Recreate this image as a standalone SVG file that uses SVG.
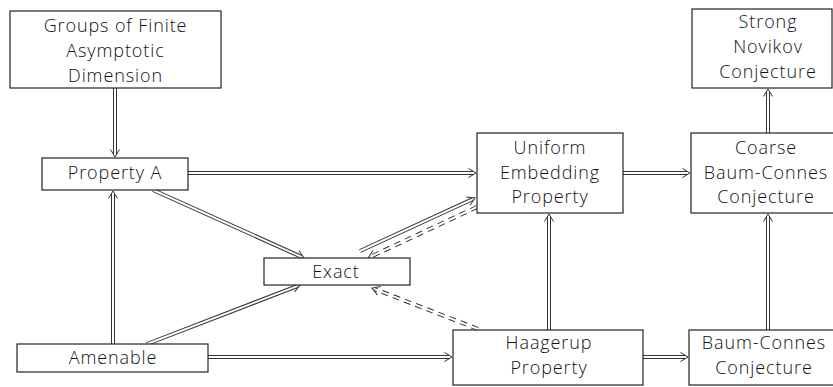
<svg xmlns="http://www.w3.org/2000/svg" width="833" height="387" viewBox="0 0 833 387">
<style>
.box{fill:#fff;stroke:#222;stroke-width:1.2}
.t{font-family:"Open Sans","Noto Sans",sans-serif;font-size:18px;font-weight:300;letter-spacing:0.9px;fill:#111;text-anchor:middle}
.o{stroke:#333;stroke-width:4;fill:none}
.d{stroke-dasharray:7 5}
.i{stroke:#fff;stroke-width:2;fill:none}
.h{stroke:none;fill:none}
</style>
<defs>
<marker id="ah" viewBox="-9 -6 10 12" refX="0" refY="0" markerWidth="10" markerHeight="12" orient="auto" markerUnits="userSpaceOnUse">
<path d="M-7.5,-4.5 L0,0 L-7.5,4.5" fill="none" stroke="#333" stroke-width="1"/>
</marker>
</defs>
<rect width="833" height="387" fill="#fff"/>
<g id="connectors">
<g><line class="o" x1="115" y1="88" x2="115" y2="154"/><line class="i" x1="115" y1="88" x2="115" y2="154"/><line class="h" x1="115" y1="88" x2="115" y2="157" marker-end="url(#ah)"/></g>
<g><line class="o" x1="113" y1="344" x2="113" y2="194"/><line class="i" x1="113" y1="344" x2="113" y2="194"/><line class="h" x1="113" y1="344" x2="113" y2="191" marker-end="url(#ah)"/></g>
<g><line class="o" x1="188" y1="173" x2="473" y2="173"/><line class="i" x1="188" y1="173" x2="473" y2="173"/><line class="h" x1="188" y1="173" x2="476" y2="173" marker-end="url(#ah)"/></g>
<g><line class="o" x1="153" y1="190" x2="301.3" y2="256.8"/><line class="i" x1="153" y1="190" x2="301.3" y2="256.8"/><line class="h" x1="153" y1="190" x2="304" y2="258" marker-end="url(#ah)"/></g>
<g><line class="o" x1="147" y1="344" x2="297.2" y2="286.1"/><line class="i" x1="147" y1="344" x2="297.2" y2="286.1"/><line class="h" x1="147" y1="344" x2="300" y2="285" marker-end="url(#ah)"/></g>
<g><line class="o" x1="360" y1="251" x2="472.3" y2="199.3"/><line class="i" x1="360" y1="251" x2="472.3" y2="199.3"/><line class="h" x1="360" y1="251" x2="475" y2="198" marker-end="url(#ah)"/></g>
<g><line class="o d" x1="477" y1="207" x2="370.7" y2="256.7"/><line class="i" x1="477" y1="207" x2="370.7" y2="256.7"/><line class="h" x1="477" y1="207" x2="368" y2="258" marker-end="url(#ah)"/></g>
<g><line class="o d" x1="478" y1="329" x2="374.8" y2="289.1"/><line class="i" x1="478" y1="329" x2="374.8" y2="289.1"/><line class="h" x1="478" y1="329" x2="372" y2="288" marker-end="url(#ah)"/></g>
<g><line class="o" x1="208" y1="357" x2="449" y2="357"/><line class="i" x1="208" y1="357" x2="449" y2="357"/><line class="h" x1="208" y1="357" x2="452" y2="357" marker-end="url(#ah)"/></g>
<g><line class="o" x1="549" y1="330" x2="549" y2="217"/><line class="i" x1="549" y1="330" x2="549" y2="217"/><line class="h" x1="549" y1="330" x2="549" y2="214" marker-end="url(#ah)"/></g>
<g><line class="o" x1="643" y1="357" x2="685" y2="357"/><line class="i" x1="643" y1="357" x2="685" y2="357"/><line class="h" x1="643" y1="357" x2="688" y2="357" marker-end="url(#ah)"/></g>
<g><line class="o" x1="623" y1="173" x2="687" y2="173"/><line class="i" x1="623" y1="173" x2="687" y2="173"/><line class="h" x1="623" y1="173" x2="690" y2="173" marker-end="url(#ah)"/></g>
<g><line class="o" x1="768" y1="133" x2="768" y2="92"/><line class="i" x1="768" y1="133" x2="768" y2="92"/><line class="h" x1="768" y1="133" x2="768" y2="89" marker-end="url(#ah)"/></g>
<g><line class="o" x1="768" y1="330" x2="768" y2="217"/><line class="i" x1="768" y1="330" x2="768" y2="217"/><line class="h" x1="768" y1="330" x2="768" y2="214" marker-end="url(#ah)"/></g>
</g>
<g id="groups-fad"><rect class="box" x="10" y="11" width="211" height="77"/><text class="t" x="115.5" y="32">Groups of Finite</text><text class="t" x="115.5" y="57">Asymptotic</text><text class="t" x="115.5" y="82">Dimension</text></g>
<g id="property-a"><rect class="box" x="42" y="158" width="146" height="32"/><text class="t" x="115" y="179">Property A</text></g>
<g id="exact"><rect class="box" x="264" y="258" width="146" height="27"/><text class="t" x="336" y="278">Exact</text></g>
<g id="amenable"><rect class="box" x="17" y="344" width="191" height="28"/><text class="t" x="113" y="364">Amenable</text></g>
<g id="uniform-embedding"><rect class="box" x="477" y="133" width="146" height="80"/><text class="t" x="550" y="154">Uniform</text><text class="t" x="550" y="178.5">Embedding</text><text class="t" x="550" y="203">Property</text></g>
<g id="coarse-bc"><rect class="box" x="691" y="133" width="154" height="80"/><text class="t" x="766" y="154">Coarse</text><text class="t" x="766" y="178.5">Baum-Connes</text><text class="t" x="766" y="203">Conjecture</text></g>
<g id="strong-novikov"><rect class="box" x="692" y="9" width="140" height="79"/><text class="t" x="768" y="28">Strong</text><text class="t" x="768" y="53">Novikov</text><text class="t" x="768" y="78">Conjecture</text></g>
<g id="haagerup"><rect class="box" x="453" y="330" width="190" height="55"/><text class="t" x="549" y="349">Haagerup</text><text class="t" x="549" y="374">Property</text></g>
<g id="baum-connes"><rect class="box" x="689" y="330" width="156" height="55"/><text class="t" x="764" y="349">Baum-Connes</text><text class="t" x="764" y="374">Conjecture</text></g>
</svg>
